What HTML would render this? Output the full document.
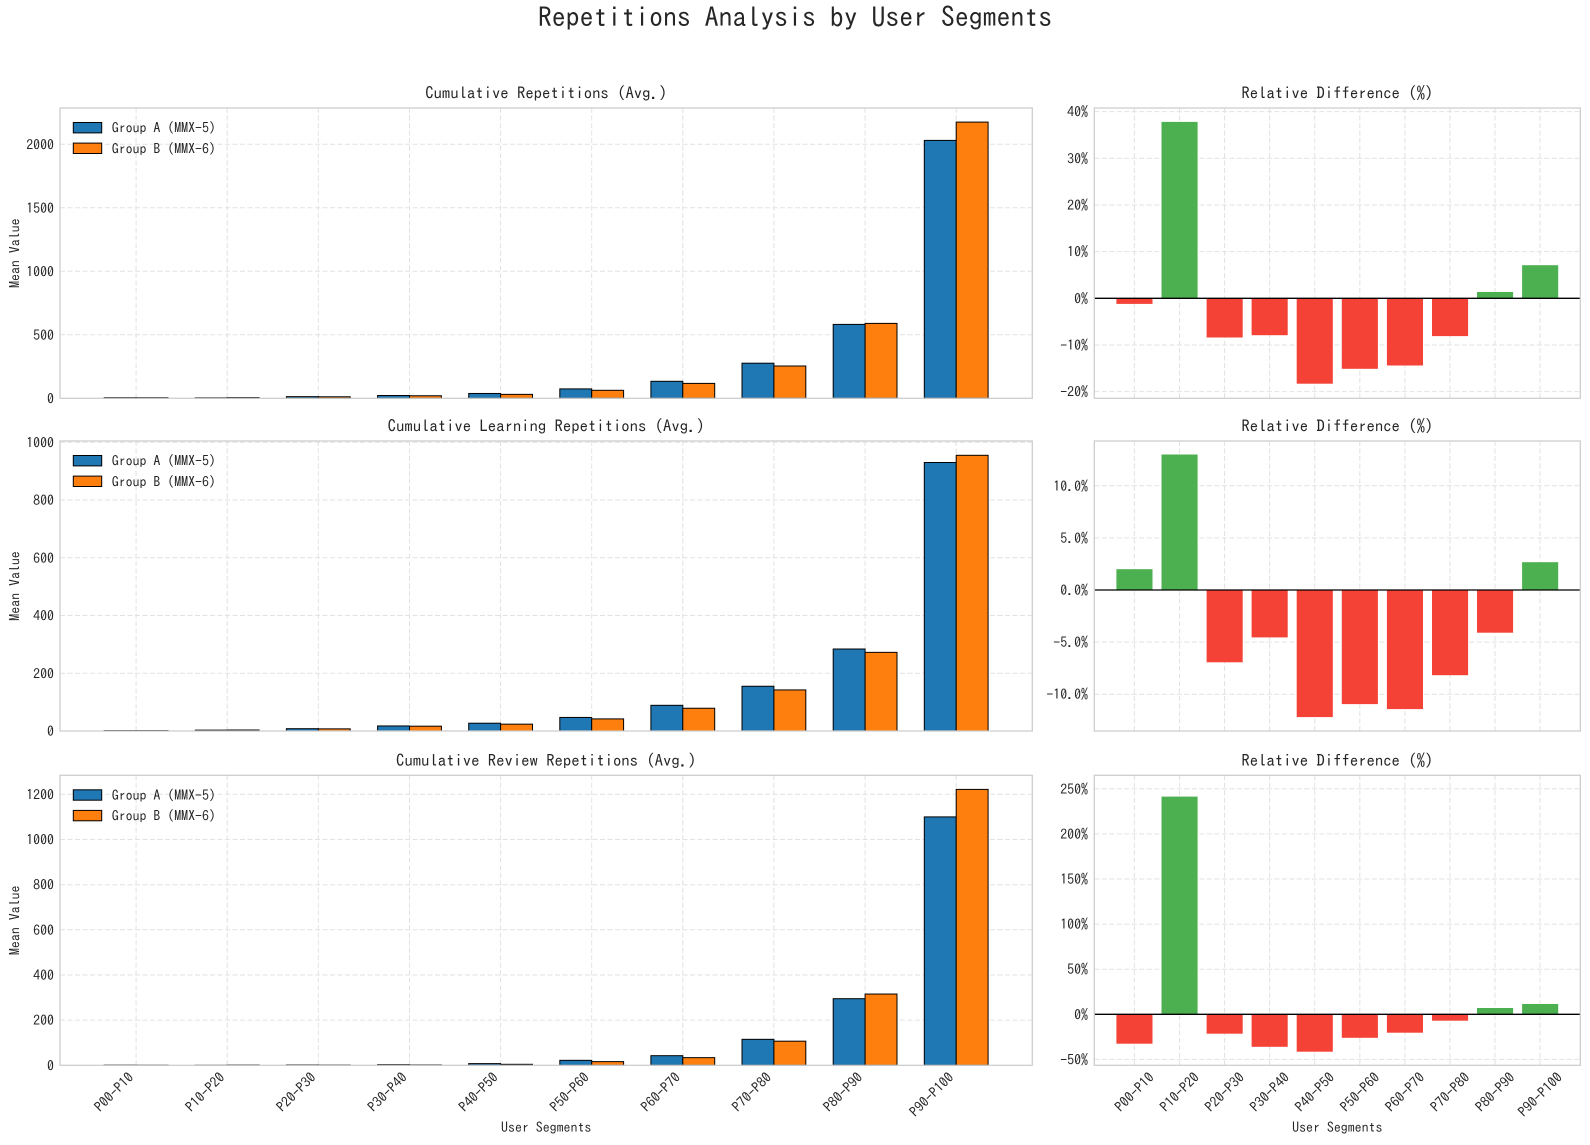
<!DOCTYPE html>
<html>
<head>
<meta charset="utf-8">
<style>
html,body{margin:0;padding:0;background:#fff;}
svg{display:block;}
text{font-family:"IPAGothic","Liberation Mono",monospace;fill:#262626;}
.tk{font-size:13.9px;}
.tt{font-size:16.7px;}
.grid line{stroke:#e2e2e2;stroke-width:1;stroke-dasharray:5,2.5;}
.sp{fill:none;stroke:#cccccc;stroke-width:1.25;}
.a{fill:#1f77b4;stroke:#000;stroke-width:1;}
.b{fill:#ff7f0e;stroke:#000;stroke-width:1;}
.g{fill:#4caf50;}
.r{fill:#f44336;}
.z{stroke:#000;stroke-width:1.3;}
</style>
</head>
<body>
<svg width="1590" height="1145" viewBox="0 0 1590 1145" xmlns="http://www.w3.org/2000/svg">
<rect width="1590" height="1145" fill="#fff"/>
<defs>
<g id="vgL" class="grid">
<line x1="136.1" y1="0" x2="136.1" y2="290"/><line x1="227.2" y1="0" x2="227.2" y2="290"/><line x1="318.3" y1="0" x2="318.3" y2="290"/><line x1="409.5" y1="0" x2="409.5" y2="290"/><line x1="500.6" y1="0" x2="500.6" y2="290"/><line x1="591.7" y1="0" x2="591.7" y2="290"/><line x1="682.8" y1="0" x2="682.8" y2="290"/><line x1="773.9" y1="0" x2="773.9" y2="290"/><line x1="865.1" y1="0" x2="865.1" y2="290"/><line x1="956.2" y1="0" x2="956.2" y2="290"/>
</g>
<g id="vgR" class="grid">
<line x1="1134.4" y1="0" x2="1134.4" y2="290"/><line x1="1179.5" y1="0" x2="1179.5" y2="290"/><line x1="1224.6" y1="0" x2="1224.6" y2="290"/><line x1="1269.6" y1="0" x2="1269.6" y2="290"/><line x1="1314.7" y1="0" x2="1314.7" y2="290"/><line x1="1359.8" y1="0" x2="1359.8" y2="290"/><line x1="1404.9" y1="0" x2="1404.9" y2="290"/><line x1="1450.0" y1="0" x2="1450.0" y2="290"/><line x1="1495.0" y1="0" x2="1495.0" y2="290"/><line x1="1540.1" y1="0" x2="1540.1" y2="290"/>
</g>
</defs>

<!-- Suptitle -->
<text x="795" y="27" text-anchor="middle" style="font-size:27.8px">Repetitions Analysis by User Segments</text>

<!-- ============ ROW 1 ============ -->
<use href="#vgL" y="108"/>
<g class="grid">
<line x1="60" y1="334.8" x2="1032.3" y2="334.8"/><line x1="60" y1="271.3" x2="1032.3" y2="271.3"/><line x1="60" y1="207.8" x2="1032.3" y2="207.8"/><line x1="60" y1="144.3" x2="1032.3" y2="144.3"/>
</g>
<rect class="a" x="104.2" y="397.66" width="31.9" height="0.64"/>
<rect class="a" x="195.3" y="397.79" width="31.9" height="0.51"/>
<rect class="a" x="286.4" y="396.65" width="31.9" height="1.65"/>
<rect class="a" x="377.6" y="395.51" width="31.9" height="2.79"/>
<rect class="a" x="468.7" y="393.47" width="31.9" height="4.83"/>
<rect class="a" x="559.8" y="388.9" width="31.9" height="9.4"/>
<rect class="a" x="650.9" y="381.3" width="31.9" height="17"/>
<rect class="a" x="742.0" y="363.2" width="31.9" height="35.1"/>
<rect class="a" x="833.2" y="324.4" width="31.9" height="73.9"/>
<rect class="a" x="924.3" y="140.4" width="31.9" height="257.9"/>
<rect class="b" x="136.1" y="397.68" width="31.9" height="0.62"/>
<rect class="b" x="227.2" y="397.6" width="31.9" height="0.7"/>
<rect class="b" x="318.3" y="396.78" width="31.9" height="1.52"/>
<rect class="b" x="409.5" y="395.76" width="31.9" height="2.54"/>
<rect class="b" x="500.6" y="394.36" width="31.9" height="3.94"/>
<rect class="b" x="591.7" y="390.3" width="31.9" height="8.0"/>
<rect class="b" x="682.8" y="383.4" width="31.9" height="14.9"/>
<rect class="b" x="773.9" y="366.0" width="31.9" height="32.3"/>
<rect class="b" x="865.1" y="323.4" width="31.9" height="74.9"/>
<rect class="b" x="956.2" y="122.1" width="31.9" height="276.2"/>
<rect class="sp" x="60" y="108" width="972.3" height="290.3"/>
<text class="tt" x="546.2" y="99" text-anchor="middle">Cumulative Repetitions (Avg.)</text>
<g class="tk" text-anchor="end">
<text x="54" y="403.3">0</text><text x="54" y="339.8">500</text><text x="54" y="276.3">1000</text><text x="54" y="212.8">1500</text><text x="54" y="149.3">2000</text>
</g>
<text class="tk" transform="translate(19.5,253.2) rotate(-90)" text-anchor="middle">Mean Value</text>
<rect class="a" x="73.3" y="122.5" width="28.4" height="10.4"/>
<rect class="b" x="73.3" y="143.1" width="28.4" height="10.4"/>
<text class="tk" x="111.7" y="132.7">Group A (MMX-5)</text>
<text class="tk" x="111.7" y="153.3">Group B (MMX-6)</text>

<!-- Row 1 right -->
<use href="#vgR" y="108"/>
<g class="grid">
<line x1="1094.3" y1="391.6" x2="1580.3" y2="391.6"/><line x1="1094.3" y1="345.0" x2="1580.3" y2="345.0"/><line x1="1094.3" y1="251.6" x2="1580.3" y2="251.6"/><line x1="1094.3" y1="205.0" x2="1580.3" y2="205.0"/><line x1="1094.3" y1="158.3" x2="1580.3" y2="158.3"/><line x1="1094.3" y1="111.6" x2="1580.3" y2="111.6"/>
</g>
<rect class="r" x="1116.4" y="298.3" width="36.1" height="5.6"/>
<rect class="g" x="1161.5" y="121.9" width="36.1" height="176.4"/>
<rect class="r" x="1206.6" y="298.3" width="36.1" height="39.2"/>
<rect class="r" x="1251.6" y="298.3" width="36.1" height="36.9"/>
<rect class="r" x="1296.7" y="298.3" width="36.1" height="85.4"/>
<rect class="r" x="1341.8" y="298.3" width="36.1" height="70.5"/>
<rect class="r" x="1386.9" y="298.3" width="36.1" height="67.2"/>
<rect class="r" x="1432.0" y="298.3" width="36.1" height="37.8"/>
<rect class="g" x="1477.0" y="292.0" width="36.1" height="6.3"/>
<rect class="g" x="1522.1" y="265.2" width="36.1" height="33.1"/>
<line class="z" x1="1094.3" y1="298.3" x2="1580.3" y2="298.3"/>
<rect class="sp" x="1094.3" y="108" width="486" height="290.3"/>
<text class="tt" x="1337.3" y="99" text-anchor="middle">Relative Difference (%)</text>
<g class="tk" text-anchor="end">
<text x="1088" y="396.6">-20%</text><text x="1088" y="350">-10%</text><text x="1088" y="303.3">0%</text><text x="1088" y="256.6">10%</text><text x="1088" y="210">20%</text><text x="1088" y="163.3">30%</text><text x="1088" y="116.6">40%</text>
</g>

<!-- ============ ROW 2 ============ -->
<use href="#vgL" y="441"/>
<g class="grid">
<line x1="60" y1="673.3" x2="1032.3" y2="673.3"/><line x1="60" y1="615.5" x2="1032.3" y2="615.5"/><line x1="60" y1="557.8" x2="1032.3" y2="557.8"/><line x1="60" y1="500.0" x2="1032.3" y2="500.0"/><line x1="60" y1="442.3" x2="1032.3" y2="442.3"/>
</g>
<rect class="a" x="104.2" y="730.57" width="31.9" height="0.43"/>
<rect class="a" x="195.3" y="730.13" width="31.9" height="0.87"/>
<rect class="a" x="286.4" y="728.69" width="31.9" height="2.31"/>
<rect class="a" x="377.6" y="725.95" width="31.9" height="5.05"/>
<rect class="a" x="468.7" y="723.21" width="31.9" height="7.79"/>
<rect class="a" x="559.8" y="717.43" width="31.9" height="13.57"/>
<rect class="a" x="650.9" y="705.31" width="31.9" height="25.69"/>
<rect class="a" x="742.0" y="686.25" width="31.9" height="44.75"/>
<rect class="a" x="833.2" y="649.01" width="31.9" height="81.99"/>
<rect class="a" x="924.3" y="462.5" width="31.9" height="268.5"/>
<rect class="b" x="136.1" y="730.56" width="31.9" height="0.44"/>
<rect class="b" x="227.2" y="730.02" width="31.9" height="0.98"/>
<rect class="b" x="318.3" y="728.86" width="31.9" height="2.14"/>
<rect class="b" x="409.5" y="726.18" width="31.9" height="4.82"/>
<rect class="b" x="500.6" y="724.16" width="31.9" height="6.84"/>
<rect class="b" x="591.7" y="718.9" width="31.9" height="12.1"/>
<rect class="b" x="682.8" y="708.25" width="31.9" height="22.75"/>
<rect class="b" x="773.9" y="689.92" width="31.9" height="41.08"/>
<rect class="b" x="865.1" y="652.36" width="31.9" height="78.64"/>
<rect class="b" x="956.2" y="455.3" width="31.9" height="275.7"/>
<rect class="sp" x="60" y="441" width="972.3" height="290"/>
<text class="tt" x="546.2" y="432" text-anchor="middle">Cumulative Learning Repetitions (Avg.)</text>
<g class="tk" text-anchor="end">
<text x="54" y="736">0</text><text x="54" y="678.3">200</text><text x="54" y="620.5">400</text><text x="54" y="562.8">600</text><text x="54" y="505">800</text><text x="54" y="447.3">1000</text>
</g>
<text class="tk" transform="translate(19.5,586) rotate(-90)" text-anchor="middle">Mean Value</text>
<rect class="a" x="73.3" y="455.5" width="28.4" height="10.4"/>
<rect class="b" x="73.3" y="476.1" width="28.4" height="10.4"/>
<text class="tk" x="111.7" y="465.7">Group A (MMX-5)</text>
<text class="tk" x="111.7" y="486.3">Group B (MMX-6)</text>

<!-- Row 2 right -->
<use href="#vgR" y="441"/>
<g class="grid">
<line x1="1094.3" y1="694.2" x2="1580.3" y2="694.2"/><line x1="1094.3" y1="642.1" x2="1580.3" y2="642.1"/><line x1="1094.3" y1="537.9" x2="1580.3" y2="537.9"/><line x1="1094.3" y1="485.8" x2="1580.3" y2="485.8"/>
</g>
<rect class="g" x="1116.4" y="569.2" width="36.1" height="20.8"/>
<rect class="g" x="1161.5" y="454.5" width="36.1" height="135.5"/>
<rect class="r" x="1206.6" y="590" width="36.1" height="72.3"/>
<rect class="r" x="1251.6" y="590" width="36.1" height="47.4"/>
<rect class="r" x="1296.7" y="590" width="36.1" height="127.1"/>
<rect class="r" x="1341.8" y="590" width="36.1" height="114.1"/>
<rect class="r" x="1386.9" y="590" width="36.1" height="119.1"/>
<rect class="r" x="1432.0" y="590" width="36.1" height="85.2"/>
<rect class="r" x="1477.0" y="590" width="36.1" height="42.7"/>
<rect class="g" x="1522.1" y="562.2" width="36.1" height="27.8"/>
<line class="z" x1="1094.3" y1="590" x2="1580.3" y2="590"/>
<rect class="sp" x="1094.3" y="441" width="486" height="290"/>
<text class="tt" x="1337.3" y="432" text-anchor="middle">Relative Difference (%)</text>
<g class="tk" text-anchor="end">
<text x="1088" y="699.2">-10.0%</text><text x="1088" y="647.1">-5.0%</text><text x="1088" y="595">0.0%</text><text x="1088" y="542.9">5.0%</text><text x="1088" y="490.8">10.0%</text>
</g>

<!-- ============ ROW 3 ============ -->
<use href="#vgL" y="775.3"/>
<g class="grid">
<line x1="60" y1="1020.1" x2="1032.3" y2="1020.1"/><line x1="60" y1="975.0" x2="1032.3" y2="975.0"/><line x1="60" y1="929.8" x2="1032.3" y2="929.8"/><line x1="60" y1="884.7" x2="1032.3" y2="884.7"/><line x1="60" y1="839.5" x2="1032.3" y2="839.5"/><line x1="60" y1="794.3" x2="1032.3" y2="794.3"/>
</g>
<rect class="a" x="104.2" y="1064.96" width="31.9" height="0.34"/>
<rect class="a" x="195.3" y="1065.19" width="31.9" height="0.11"/>
<rect class="a" x="286.4" y="1064.85" width="31.9" height="0.45"/>
<rect class="a" x="377.6" y="1064.62" width="31.9" height="0.68"/>
<rect class="a" x="468.7" y="1063.61" width="31.9" height="1.69"/>
<rect class="a" x="559.8" y="1060.33" width="31.9" height="4.97"/>
<rect class="a" x="650.9" y="1055.68" width="31.9" height="9.62"/>
<rect class="a" x="742.0" y="1039.33" width="31.9" height="25.97"/>
<rect class="a" x="833.2" y="998.69" width="31.9" height="66.61"/>
<rect class="a" x="924.3" y="816.9" width="31.9" height="248.4"/>
<rect class="b" x="136.1" y="1065.07" width="31.9" height="0.23"/>
<rect class="b" x="227.2" y="1064.92" width="31.9" height="0.38"/>
<rect class="b" x="318.3" y="1064.95" width="31.9" height="0.35"/>
<rect class="b" x="409.5" y="1064.87" width="31.9" height="0.43"/>
<rect class="b" x="500.6" y="1064.31" width="31.9" height="0.99"/>
<rect class="b" x="591.7" y="1061.62" width="31.9" height="3.68"/>
<rect class="b" x="682.8" y="1057.65" width="31.9" height="7.65"/>
<rect class="b" x="773.9" y="1041.18" width="31.9" height="24.12"/>
<rect class="b" x="865.1" y="994.04" width="31.9" height="71.26"/>
<rect class="b" x="956.2" y="789.4" width="31.9" height="275.9"/>
<rect class="sp" x="60" y="775.3" width="972.3" height="290"/>
<text class="tt" x="546.2" y="766.3" text-anchor="middle">Cumulative Review Repetitions (Avg.)</text>
<g class="tk" text-anchor="end">
<text x="54" y="1070.3">0</text><text x="54" y="1025.1">200</text><text x="54" y="980">400</text><text x="54" y="934.8">600</text><text x="54" y="889.7">800</text><text x="54" y="844.5">1000</text><text x="54" y="799.3">1200</text>
</g>
<text class="tk" transform="translate(19.5,920.3) rotate(-90)" text-anchor="middle">Mean Value</text>
<rect class="a" x="73.3" y="789.8" width="28.4" height="10.4"/>
<rect class="b" x="73.3" y="810.4" width="28.4" height="10.4"/>
<text class="tk" x="111.7" y="800">Group A (MMX-5)</text>
<text class="tk" x="111.7" y="820.6">Group B (MMX-6)</text>
<g class="tk" text-anchor="end">
<text transform="translate(134.6,1078.3) rotate(-45)">P00-P10</text>
<text transform="translate(225.7,1078.3) rotate(-45)">P10-P20</text>
<text transform="translate(316.8,1078.3) rotate(-45)">P20-P30</text>
<text transform="translate(408.0,1078.3) rotate(-45)">P30-P40</text>
<text transform="translate(499.1,1078.3) rotate(-45)">P40-P50</text>
<text transform="translate(590.2,1078.3) rotate(-45)">P50-P60</text>
<text transform="translate(681.3,1078.3) rotate(-45)">P60-P70</text>
<text transform="translate(772.4,1078.3) rotate(-45)">P70-P80</text>
<text transform="translate(863.6,1078.3) rotate(-45)">P80-P90</text>
<text transform="translate(954.7,1078.3) rotate(-45)">P90-P100</text>
</g>
<text class="tk" x="546.2" y="1132" text-anchor="middle">User Segments</text>

<!-- Row 3 right -->
<use href="#vgR" y="775.3"/>
<g class="grid">
<line x1="1094.3" y1="1059.4" x2="1580.3" y2="1059.4"/><line x1="1094.3" y1="969.2" x2="1580.3" y2="969.2"/><line x1="1094.3" y1="924.1" x2="1580.3" y2="924.1"/><line x1="1094.3" y1="879.0" x2="1580.3" y2="879.0"/><line x1="1094.3" y1="833.9" x2="1580.3" y2="833.9"/><line x1="1094.3" y1="788.8" x2="1580.3" y2="788.8"/>
</g>
<rect class="r" x="1116.4" y="1014.3" width="36.1" height="29.4"/>
<rect class="g" x="1161.5" y="796.6" width="36.1" height="217.7"/>
<rect class="r" x="1206.6" y="1014.3" width="36.1" height="19.4"/>
<rect class="r" x="1251.6" y="1014.3" width="36.1" height="32.5"/>
<rect class="r" x="1296.7" y="1014.3" width="36.1" height="37.4"/>
<rect class="r" x="1341.8" y="1014.3" width="36.1" height="23.5"/>
<rect class="r" x="1386.9" y="1014.3" width="36.1" height="18.4"/>
<rect class="r" x="1432.0" y="1014.3" width="36.1" height="6.4"/>
<rect class="g" x="1477.0" y="1008.0" width="36.1" height="6.3"/>
<rect class="g" x="1522.1" y="1004.0" width="36.1" height="10.3"/>
<line class="z" x1="1094.3" y1="1014.3" x2="1580.3" y2="1014.3"/>
<rect class="sp" x="1094.3" y="775.3" width="486" height="290"/>
<text class="tt" x="1337.3" y="766.3" text-anchor="middle">Relative Difference (%)</text>
<g class="tk" text-anchor="end">
<text x="1088" y="1064.4">-50%</text><text x="1088" y="1019.3">0%</text><text x="1088" y="974.2">50%</text><text x="1088" y="929.1">100%</text><text x="1088" y="884">150%</text><text x="1088" y="838.9">200%</text><text x="1088" y="793.8">250%</text>
</g>
<g class="tk" text-anchor="end">
<text transform="translate(1155.1,1078.3) rotate(-45)">P00-P10</text>
<text transform="translate(1200.2,1078.3) rotate(-45)">P10-P20</text>
<text transform="translate(1245.3,1078.3) rotate(-45)">P20-P30</text>
<text transform="translate(1290.3,1078.3) rotate(-45)">P30-P40</text>
<text transform="translate(1335.4,1078.3) rotate(-45)">P40-P50</text>
<text transform="translate(1380.5,1078.3) rotate(-45)">P50-P60</text>
<text transform="translate(1425.6,1078.3) rotate(-45)">P60-P70</text>
<text transform="translate(1470.7,1078.3) rotate(-45)">P70-P80</text>
<text transform="translate(1515.7,1078.3) rotate(-45)">P80-P90</text>
<text transform="translate(1563.3,1078.3) rotate(-45)">P90-P100</text>
</g>
<text class="tk" x="1337.3" y="1132" text-anchor="middle">User Segments</text>
</svg>
</body>
</html>
